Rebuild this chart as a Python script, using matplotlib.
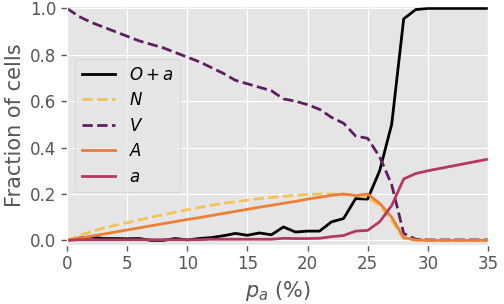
import matplotlib
matplotlib.use("Agg")
import matplotlib.pyplot as plt

plt.style.use("ggplot")

# percent of a-cells (x axis)
p_a = list(range(0, 36))

frac_Oa = [0.0, 0.01, 0.015, 0.008, 0.008, 0.007, 0.008, 0.0, 0.0, 0.008,
           0.002, 0.008, 0.012, 0.02, 0.03, 0.022, 0.032, 0.024, 0.058, 0.036,
           0.04, 0.04, 0.08, 0.094, 0.18, 0.178, 0.3, 0.5, 0.955, 0.995,
           1.0, 1.0, 1.0, 1.0, 1.0, 1.0]
frac_N = [0.0, 0.02, 0.038, 0.053, 0.065, 0.076, 0.088, 0.1, 0.11, 0.122,
          0.132, 0.142, 0.151, 0.16, 0.167, 0.173, 0.18, 0.185, 0.19, 0.194,
          0.198, 0.2, 0.2, 0.198, 0.195, 0.185, 0.15, 0.085, 0.008, 0.001,
          0.0, 0.0, 0.0, 0.0, 0.0, 0.0]
frac_V = [1.0, 0.965, 0.94, 0.92, 0.9, 0.88, 0.86, 0.845, 0.83, 0.81,
          0.79, 0.77, 0.745, 0.72, 0.69, 0.675, 0.66, 0.645, 0.61, 0.6,
          0.585, 0.565, 0.53, 0.505, 0.45, 0.44, 0.36, 0.24, 0.03, 0.005,
          0.002, 0.002, 0.002, 0.002, 0.002, 0.002]
frac_A = [0.0, 0.009, 0.018, 0.027, 0.036, 0.045, 0.054, 0.063, 0.072, 0.081,
          0.09, 0.098, 0.107, 0.116, 0.125, 0.134, 0.143, 0.151, 0.16, 0.168,
          0.178, 0.186, 0.194, 0.2, 0.193, 0.2, 0.16, 0.1, 0.012, 0.002,
          0.0, 0.0, 0.0, 0.0, 0.0, 0.0]
frac_a = [0.0, 0.003, 0.003, 0.003, 0.003, 0.003, 0.003, 0.003, 0.003, 0.003,
          0.003, 0.003, 0.005, 0.005, 0.005, 0.005, 0.005, 0.005, 0.009, 0.008,
          0.008, 0.009, 0.016, 0.021, 0.04, 0.043, 0.08, 0.15, 0.265, 0.288,
          0.3, 0.31, 0.32, 0.33, 0.34, 0.35]

fig = plt.figure(figsize=(5.04, 3.04), dpi=100)
ax = fig.add_axes([0.133, 0.194, 0.835, 0.786])

ax.plot(p_a, frac_Oa, color="black", lw=2, label="$O+a$")
ax.plot(p_a, frac_N, color="#f3c35b", lw=2, ls="--", label="$N$")
ax.plot(p_a, frac_V, color="#5e1f5f", lw=2, ls="--", label="$V$")
ax.plot(p_a, frac_A, color="#ec7f35", lw=2, label="$A$")
ax.plot(p_a, frac_a, color="#b5395f", lw=2, label="$a$")

ax.set_xlim(0, 35)
ax.set_ylim(-0.02, 1.01)
ax.set_xticks([0, 5, 10, 15, 20, 25, 30, 35])
ax.set_yticks([0.0, 0.2, 0.4, 0.6, 0.8, 1.0])
ax.tick_params(labelsize=12, length=4, width=1, color="#555555",
               direction="out", left=True, bottom=True)
ax.set_xlabel("$p_a$ (%)", fontsize=15, color="#555555")
ax.set_ylabel("Fraction of cells", fontsize=15, color="#555555")
ax.legend(loc="center left", fontsize=12, labelspacing=0.45)

fig.savefig("out.png", dpi=100)
